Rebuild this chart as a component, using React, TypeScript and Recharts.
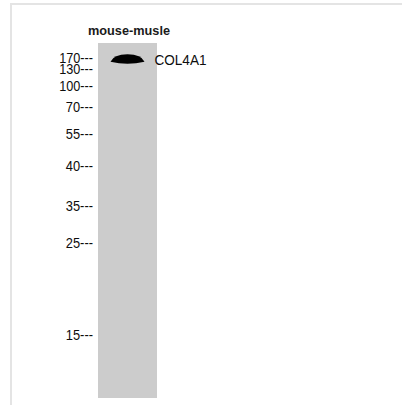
import React from 'react';
import {
  ComposedChart,
  Bar,
  Scatter,
  XAxis,
  YAxis,
  LabelList,
} from 'recharts';

// lane and marker data, migration as fraction of lane length (0 = well, 1 = bottom)
const lanes = ['mouse-musle'];
const markerLabels = ['170', '130', '100', '70', '55', '40', '35', '25', '15'];
const markerMigration = [0.041, 0.0725, 0.12, 0.181, 0.256, 0.345, 0.458, 0.564, 0.823];
const bandNames = ['COL4A1'];
const bandMigration = [0.047];

const laneData = lanes.map((lane) => ({ lane, length: 1 }));
const bandData = bandNames.map((name, i) => ({
  lane: lanes[0],
  migration: bandMigration[i],
  name,
}));

const FONT = '"Liberation Sans", Arial, sans-serif';

const MarkerTick = (props: any) => {
  const { x, y, payload } = props;
  const idx = markerMigration.indexOf(payload.value);
  const label = markerLabels[idx] ?? '';
  const text = `${label}---`;
  return (
    <text
      x={x}
      y={y}
      dy="0.36em"
      textAnchor="end"
      fontFamily={FONT}
      fontSize={14.5}
      fill="#0d0d0d"
      textLength={label.length * 6.6 + 14}
      lengthAdjust="spacingAndGlyphs"
    >
      {text}
    </text>
  );
};

const LaneTick = (props: any) => {
  const { x, y, payload } = props;
  return (
    <text
      x={x + 1.5}
      y={y - 8}
      textAnchor="middle"
      fontFamily={FONT}
      fontSize={13.5}
      fontWeight="bold"
      fill="#1a1a1a"
      textLength={82}
      lengthAdjust="spacingAndGlyphs"
    >
      {payload.value}
    </text>
  );
};

const BandShape = (props: any) => {
  const { cx, cy } = props;
  if (cx == null || cy == null) return null;
  const d = `M ${cx - 17} ${cy + 2}
    Q ${cx - 14} ${cy - 5.5} ${cx} ${cy - 5.5}
    Q ${cx + 14} ${cy - 5.5} ${cx + 17} ${cy + 2}
    Q ${cx} ${cy + 6} ${cx - 17} ${cy + 2} Z`;
  return <path d={d} fill="#050505" filter="url(#bandBlur)" />;
};

const BandLabel = (props: any) => {
  const { viewBox, value } = props;
  const vb = viewBox || {};
  const cx = (vb.x ?? 0) + (vb.width ?? 0) / 2;
  const cy = (vb.y ?? 0) + (vb.height ?? 0) / 2;
  return (
    <text
      x={cx + 27}
      y={cy}
      dy="0.36em"
      fontFamily={FONT}
      fontSize={14.5}
      fill="#0d0d0d"
      textLength={52}
      lengthAdjust="spacingAndGlyphs"
    >
      {value}
    </text>
  );
};

export default function App() {
  return (
    <div
      style={{
        position: 'absolute',
        left: 0,
        top: 0,
        width: 402,
        height: 405,
        background: '#fff',
        overflow: 'hidden',
      }}
    >
      <div
        style={{
          position: 'absolute',
          left: 10,
          top: 3,
          width: 420,
          height: 420,
          borderTop: '2px solid #e4e4e4',
          borderLeft: '2px solid #e4e4e4',
        }}
      />
      <ComposedChart
        width={402}
        height={405}
        data={laneData}
        margin={{ top: 13, right: 245, bottom: 7, left: 0 }}
        barCategoryGap={0}
        style={{ position: 'absolute', left: 0, top: 0 }}
      >
        <defs>
          <filter id="bandBlur" x="-20%" y="-50%" width="140%" height="200%">
            <feGaussianBlur stdDeviation="0.7" />
          </filter>
        </defs>
        <XAxis
          xAxisId={0}
          dataKey="lane"
          type="category"
          allowDuplicatedCategory={false}
          orientation="top"
          height={30}
          axisLine={false}
          tickLine={false}
          tickSize={0}
          tickMargin={0}
          tick={<LaneTick />}
        />
        <YAxis
          yAxisId={0}
          type="number"
          domain={[0, 1]}
          reversed
          width={98}
          ticks={markerMigration}
          interval={0}
          axisLine={false}
          tickLine={false}
          tickSize={0}
          tickMargin={5}
          tick={<MarkerTick />}
        />
        <Bar
          dataKey="length"
          fill="#cccccc"
          isAnimationActive={false}
        />
        <Scatter
          data={bandData}
          dataKey="migration"
          shape={<BandShape />}
          isAnimationActive={false}
        >
          <LabelList dataKey="name" content={<BandLabel />} />
        </Scatter>
      </ComposedChart>
    </div>
  );
}
